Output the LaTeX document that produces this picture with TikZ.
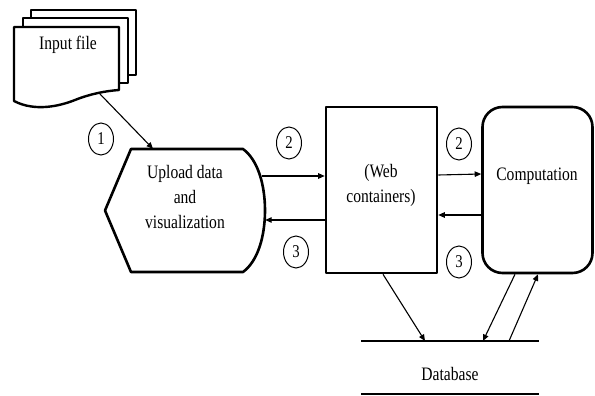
\documentclass[tikz,border=0pt]{standalone}
\usepackage{fontspec}
\setmainfont{Liberation Serif}[FakeStretch=0.82]
\usetikzlibrary{shapes.geometric,arrows.meta,calc}
\tikzset{
  thick box/.style={draw, line width=2.6pt, line join=round},
  arr/.style={draw, line width=1.1pt, -{Triangle[length=6.5pt,width=5.5pt]}},
  num/.style={draw, ellipse, line width=1pt, minimum width=25pt, minimum height=32pt, inner sep=0pt, font=\fontsize{18}{20}\selectfont},
  lbl/.style={align=center, inner sep=0pt, font=\fontsize{19}{25}\selectfont},
}
\begin{document}
\begin{tikzpicture}[x=1pt,y=-1pt]
\useasboundingbox (0,0) rectangle (595,396);
% input file stack
\draw[thick box, fill=white, line width=2.4pt] (31,10) rectangle (136,75);
\draw[thick box, fill=white, line width=2.4pt] (23,18) rectangle (128,83);
\draw[thick box, fill=white, line width=2.4pt] (14,27) -- (119,27) -- (119,90)
  .. controls (105,91) and (90,94) .. (75,100)
  .. controls (60,106) and (35,112) .. (14,101) -- cycle;
\node[lbl] (inputtxt) at (68,45) {Input file};
\coordinate (inbot) at (100,94);
% upload (display shape)
\node[minimum width=160pt, minimum height=123pt, inner sep=0pt] (upload) at (185,210.5) {};
\draw[thick box] (131,149) -- (243,149)
  .. controls (258,160) and (265,185) .. (265,210.5)
  .. controls (265,236) and (258,261) .. (243,272)
  -- (131,272) -- (105,210.5) -- cycle;
\node[lbl] (uploadtxt) at (185,197) {Upload data\\and\\visualization};
% web containers
\node[thick box, minimum width=111pt, minimum height=166pt, inner sep=0pt] (web) at (381.5,190) {};
\node[lbl] (webtxt) at (381,185) {(Web\\containers)};
% computation
\node[thick box, rounded corners=20pt, minimum width=110pt, minimum height=166pt, inner sep=0pt] (comp) at (537.5,190) {};
\node[lbl] (comptxt) at (537,176) {Computation};
% database
\coordinate (dbL) at (361,341);
\coordinate (dbR) at (539,341);
\coordinate (dbL2) at (361,394);
\coordinate (dbR2) at (539,394);
\draw[line width=2.6pt] (dbL) -- (dbR);
\draw[line width=2.2pt] (dbL2) -- (dbR2);
\node[lbl] (dbtxt) at (450,374) {Database};
\coordinate (db1) at (425,341);
\coordinate (db2) at (483,341);
\coordinate (db3) at (509,341);
% connectors
\draw[arr] (inbot) -- ([xshift=-32pt]upload.north);
\draw[arr] ([xshift=-3pt,yshift=34.5pt]upload.east) -- ([yshift=14pt]web.west);
\draw[arr] ([yshift=-30pt]web.west) -- ([xshift=0pt,yshift=-9.5pt]upload.east);
\draw[arr] ([yshift=15pt]web.east) -- ([yshift=16pt]comp.west);
\draw[arr] ([yshift=-25pt]comp.west) -- ([yshift=-25pt]web.east);
\draw[arr] ([xshift=1.5pt]web.south) -- (db1);
\draw[arr] ([xshift=-22.5pt]comp.south) -- (db2);
\draw[arr] (db3) -- ([xshift=0.5pt]comp.south);
% numbers
\node[num] (n1) at (101,139) {1};
\node[num] (n2a) at (289,143) {2};
\node[num] (n3a) at (296,252) {3};
\node[num] (n2b) at (459,144) {2};
\node[num] (n3b) at (459,262) {3};
\end{tikzpicture}
\end{document}
